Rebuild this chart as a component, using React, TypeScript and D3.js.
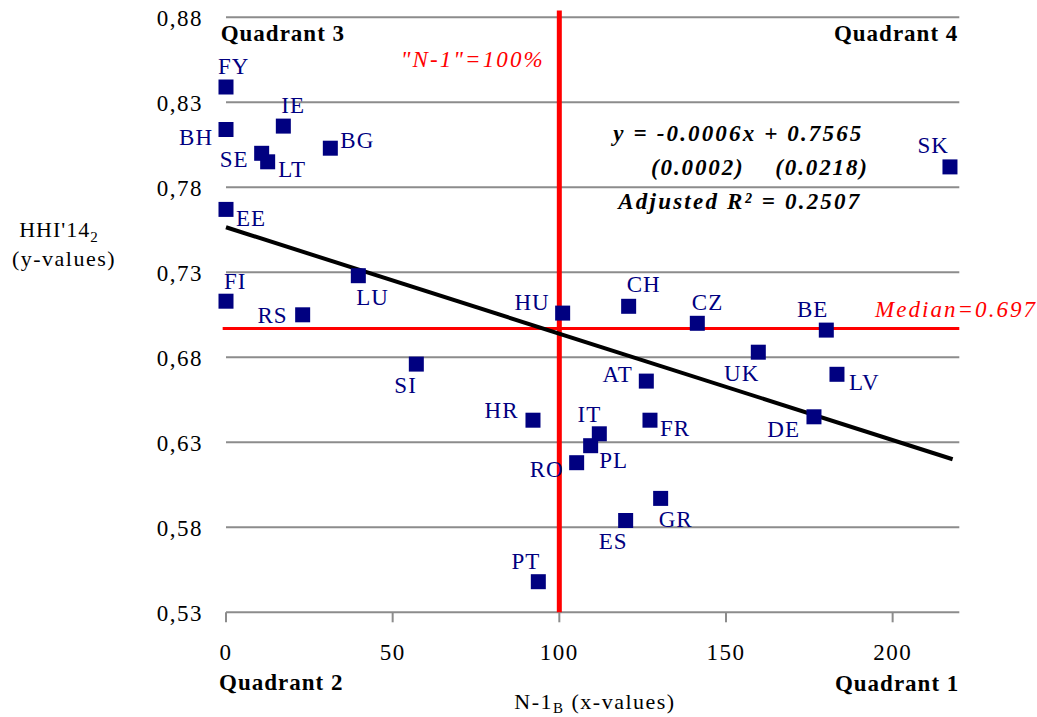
import React from 'react'
import * as d3 from 'd3'

// country codes, N-1 (x) and HHI'14 (y)
const codes = ['FY', 'BH', 'IE', 'BG', 'SE', 'LT', 'EE', 'LU', 'FI', 'RS', 'HU', 'SK', 'CH', 'CZ', 'BE', 'UK', 'LV', 'AT', 'FR', 'DE', 'IT', 'PL', 'RO', 'GR', 'ES', 'SI', 'HR', 'PT']
const nMinus1 = [0, 0, 17.2, 31.3, 10.7, 12.5, 0, 39.7, 0, 23.0, 101.0, 217.2, 120.8, 141.4, 180.1, 159.7, 183.3, 126.1, 127.2, 176.4, 112.0, 109.4, 105.2, 130.4, 119.9, 57.1, 92.1, 93.7]
const hhi = [0.839, 0.814, 0.816, 0.803, 0.800, 0.795, 0.767, 0.728, 0.713, 0.705, 0.706, 0.792, 0.710, 0.700, 0.696, 0.683, 0.670, 0.666, 0.643, 0.645, 0.635, 0.628, 0.618, 0.597, 0.584, 0.676, 0.643, 0.548]

const xTicks = [0, 50, 100, 150, 200]
const yTicks = [0.53, 0.58, 0.63, 0.68, 0.73, 0.78, 0.83, 0.88]

const fitSlope = -0.000626
const fitIntercept = 0.7565
const fitRange = [0, 218]
const median = 0.697
const threshold = 100

const equationLines = ['y = -0.0006x + 0.7565', '(0.0002)    (0.0218)', 'Adjusted R² = 0.2507']

// label placement: [dx, dy, anchor]
const labelPlace: Record<string, [number, number, string]> = {
  FY: [-8, -13, 'start'], BH: [-13, 15, 'end'], IE: [-2, -13, 'start'], BG: [10, 0, 'start'],
  SE: [-13, 13.5, 'end'], LT: [10.5, 15, 'start'], EE: [10, 17, 'start'], LU: [-2, 29, 'start'],
  FI: [-2, -12, 'start'], RS: [-15, 8, 'end'], HU: [-13, -3.5, 'end'], SK: [-1, -13.5, 'end'],
  CH: [-2, -14, 'start'], CZ: [-5.5, -13, 'start'], BE: [2, -13.5, 'end'], UK: [1, 29, 'end'],
  LV: [12, 15.7, 'start'], AT: [-13.6, 1, 'end'], FR: [10, 16, 'start'], DE: [-14, 20.6, 'end'],
  IT: [2, -11.6, 'end'], PL: [8.6, 22, 'start'], RO: [-13, 14, 'end'], GR: [-2, 29, 'start'],
  ES: [2, 28, 'end'], SI: [0.5, 28.5, 'end'], HR: [-14.5, -2, 'end'], PT: [2, -13, 'end']
}

const serif = '"Liberation Serif", "Times New Roman", serif'
const navy = '#000080'
const red = '#ff0000'

export default function App() {
  const width = 1037
  const height = 717
  const x = d3.scaleLinear().domain([0, 220]).range([226, 959.3])
  const y = d3.scaleLinear().domain([0.53, 0.88]).range([612.3, 17.3])

  const fitLine = d3.line<number>()
    .x(d => x(d))
    .y(d => y(fitIntercept + fitSlope * d))

  const fmt = (v: number) => v.toFixed(2).replace('.', ',')
  const sq = 15

  return (
    <svg width={width} height={height} style={{ position: 'absolute', left: 0, top: 0, background: '#fff' }} fontFamily={serif}>
      <rect width={width} height={height} fill="#fff" />
      {/* gridlines */}
      {yTicks.map(t => (
        <line key={t} x1={x(0)} x2={x(220)} y1={y(t)} y2={y(t)} stroke="#8c8c8c" strokeWidth={2} />
      ))}
      {xTicks.map(t => (
        <line key={t} x1={x(t)} x2={x(t)} y1={y(0.53)} y2={y(0.53) + 10} stroke="#8c8c8c" strokeWidth={2} />
      ))}
      {/* y tick labels */}
      {yTicks.map(t => (
        <text key={t} x={203} y={y(t) + 8.7} textAnchor="end" fontSize={23} letterSpacing={1.5}>{fmt(t)}</text>
      ))}
      {xTicks.map(t => (
        <text key={t} x={x(t)} y={660} textAnchor="middle" fontSize={23} letterSpacing={1.5}>{t}</text>
      ))}
      {/* median and threshold lines */}
      <line x1={x(-1)} x2={x(220)} y1={y(median)} y2={y(median)} stroke={red} strokeWidth={3} />
      <line x1={x(threshold)} x2={x(threshold)} y1={y(0.53)} y2={y(0.884)} stroke={red} strokeWidth={5} />
      {/* regression line */}
      <path d={fitLine(fitRange) || ''} fill="none" stroke="#000" strokeWidth={4} />
      {/* points */}
      {codes.map((c, i) => (
        <rect key={c} x={x(nMinus1[i]) - sq / 2} y={y(hhi[i]) - sq / 2} width={sq} height={sq} fill={navy} />
      ))}
      {codes.map((c, i) => {
        const [dx, dy, anchor] = labelPlace[c]
        return (
          <text key={c} x={x(nMinus1[i]) + dx} y={y(hhi[i]) + dy} textAnchor={anchor} fontSize={23} letterSpacing={1} fill={navy}>{c}</text>
        )
      })}
      {/* quadrant labels */}
      <text x={220.7} y={40.5} fontSize={23} fontWeight="bold" letterSpacing={1}>Quadrant 3</text>
      <text x={958.3} y={40.5} fontSize={23} fontWeight="bold" letterSpacing={1} textAnchor="end">Quadrant 4</text>
      <text x={219} y={689.5} fontSize={23} fontWeight="bold" letterSpacing={1}>Quadrant 2</text>
      <text x={959.3} y={690.5} fontSize={23} fontWeight="bold" letterSpacing={1} textAnchor="end">Quadrant 1</text>
      {/* annotations */}
      <text x={400.7} y={66.7} fontSize={23} fontStyle="italic" fill={red} textLength={142} lengthAdjust="spacing">"N-1"=100%</text>
      <text x={875} y={316.7} fontSize={23} fontStyle="italic" fill={red} textLength={160} lengthAdjust="spacing">Median=0.697</text>
      <text x={613.3} y={140.5} fontSize={23} fontStyle="italic" fontWeight="bold" textLength={248} lengthAdjust="spacing">{equationLines[0]}</text>
      <text x={651} y={175} fontSize={23} fontStyle="italic" fontWeight="bold" textLength={216} lengthAdjust="spacing" style={{ whiteSpace: 'pre' }}>{equationLines[1]}</text>
      <text x={618.3} y={209.3} fontSize={23} fontStyle="italic" fontWeight="bold" textLength={241} lengthAdjust="spacing">{equationLines[2]}</text>
      {/* axis titles */}
      <text x={59} y={236.7} fontSize={22} letterSpacing={1} textAnchor="middle">HHI'14<tspan fontSize={15} dy={5}>2</tspan></text>
      <text x={64} y={265.7} fontSize={22} letterSpacing={1.5} textAnchor="middle">(y-values)</text>
      <text x={595} y={709} fontSize={22} letterSpacing={1.5} textAnchor="middle">N-1<tspan fontSize={15} dy={3.5}>B</tspan><tspan dy={-3.5}> (x-values)</tspan></text>
    </svg>
  )
}
